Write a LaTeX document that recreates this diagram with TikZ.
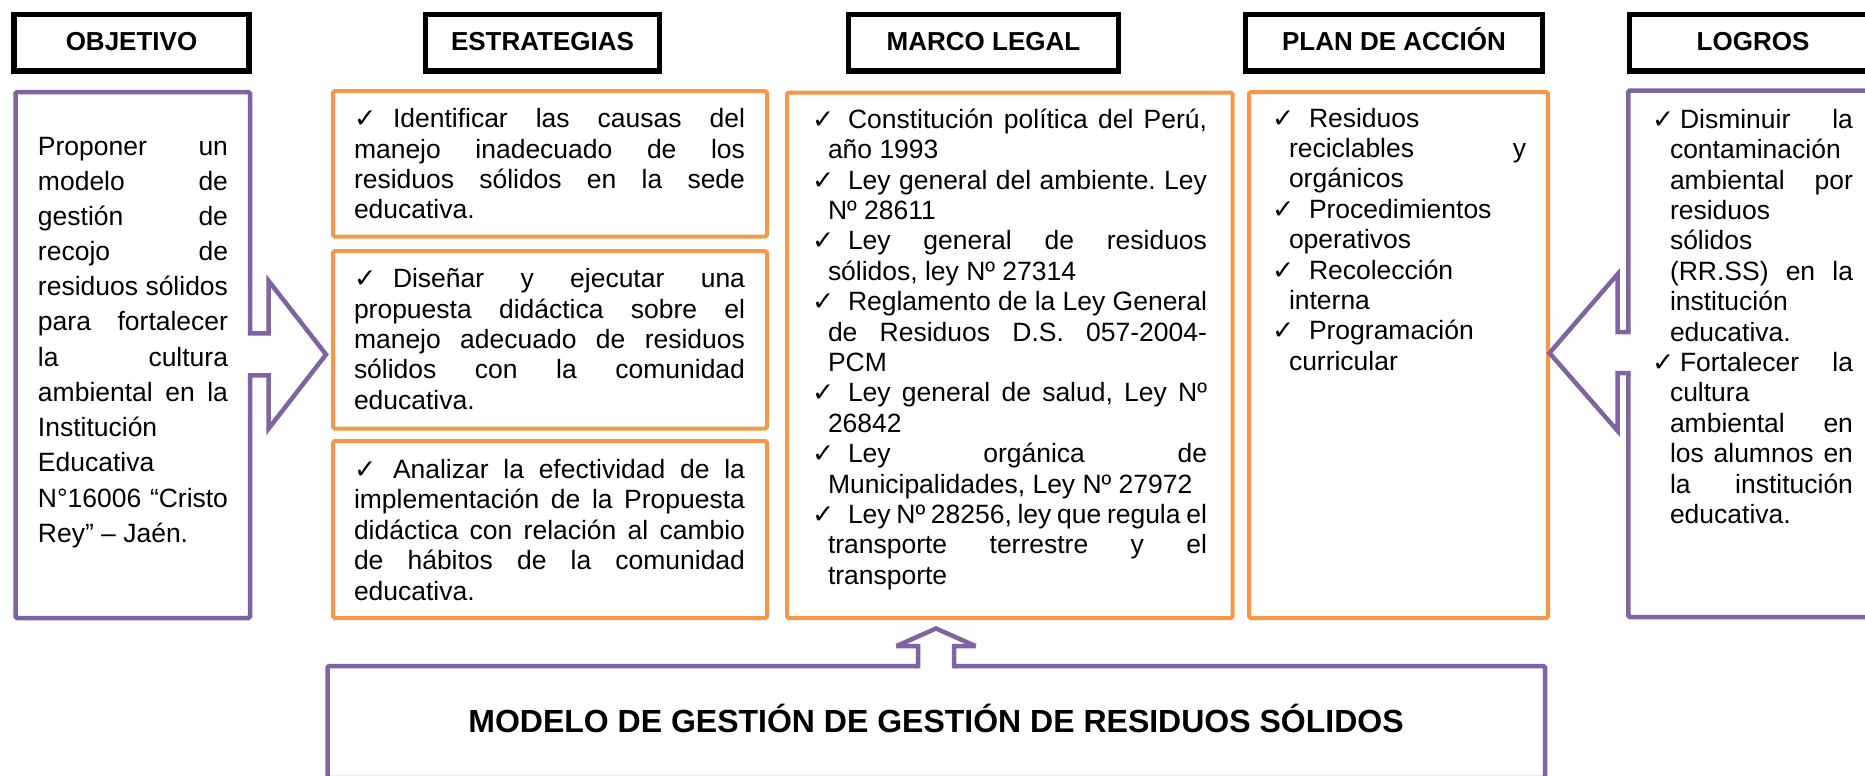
\documentclass[tikz,border=0pt]{standalone}
\usepackage{fontspec}
\setmainfont{Liberation Sans}
\newfontfamily\symf{DejaVu Sans}[Scale=1.0]
\usetikzlibrary{fit}
\definecolor{myorange}{HTML}{F79646}
\definecolor{mypurple}{HTML}{8064A2}
\newcommand\chk{{\symf ✓}}
\newcommand\myJ[1]{\hbox to\hsize{#1}}
\newcommand\myL[1]{\hbox to\hsize{#1\hfil}}
\newcommand\hchk[2]{\hskip#1\relax\rlap{\chk}\hskip#2\relax}
\newcommand\tblock[2]{\vtop{\hsize=#1\relax\lineskiplimit=-100pt\relax\lineskip=0pt\relax#2}}
\newcommand\bodyfont{\fontsize{13.24pt}{15.2pt}\selectfont}
\newcommand\objfont{\fontsize{13.24pt}{17.6pt}\selectfont}
\tikzset{
  hdrbox/.style={draw=black, line width=2.75pt, inner sep=0pt, outer sep=0pt},
  hdrtxt/.style={anchor=base, inner sep=0pt, font=\fontsize{13pt}{15pt}\selectfont\bfseries},
  obox/.style={draw=myorange, line width=2pt, inner sep=0pt, outer sep=0pt, rounded corners=0.8pt},
  pbox/.style={draw=mypurple, line width=2.25pt, inner sep=0pt, outer sep=0pt, rounded corners=0.8pt},
  txt/.style={anchor=base west, inner sep=0pt, outer sep=0pt, font=\bodyfont},
  barrow/.style={draw=mypurple, line width=2.25pt, line join=miter},
}
\begin{document}
\begin{tikzpicture}[x=0.5pt,y=-0.5pt]
\useasboundingbox (0,0) rectangle (1865,776);
\fill[white] (0,0) rectangle (1865,776);
\clip (0,0) rectangle (1865,776);

% header boxes
\node[hdrbox, fit={(14,14.5) (249,71)}] (h1) {};
\node[hdrbox, fit={(425.5,14.5) (659.5,71)}] (h2) {};
\node[hdrbox, fit={(848.5,14.5) (1118.5,71)}] (h3) {};
\node[hdrbox, fit={(1245.5,14.5) (1542.5,71)}] (h4) {};
\node[hdrbox, fit={(1629.5,14.5) (1877,71)}] (h5) {};
\node[hdrtxt] (h1t) at (131.5,50) {OBJETIVO};
\node[hdrtxt] (h2t) at (542.5,50) {ESTRATEGIAS};
\node[hdrtxt] (h3t) at (983.5,50) {MARCO LEGAL};
\node[hdrtxt] (h4t) at (1394,50) {PLAN DE ACCIÓN};
\node[hdrtxt] (h5t) at (1753,50) {LOGROS};

% content boxes
\node[pbox, fit={(15.5,92) (250,618)}] (ob) {};
\node[obox, fit={(333,91) (767,236.5)}] (s1) {};
\node[obox, fit={(333,251) (767,428.5)}] (s2) {};
\node[obox, fit={(333,441) (767,618)}] (s3) {};
\node[obox, fit={(787,92.5) (1232.5,618)}] (mb) {};
\node[obox, fit={(1249,92) (1548,618)}] (pb) {};
\node[pbox, fit={(1628.3,90.5) (1885,617)}] (lb) {};
\node[pbox, fit={(327.5,666) (1545,778)}] (bb) {};

% block arrows
\path[fill=white] (246,333.3) -- (268.7,333.3) -- (268.7,281) -- (326,354.5) -- (268.7,428.5) -- (268.7,375.3) -- (246,375.3) -- cycle;
\draw[barrow] (247.75,333.3) -- (268.7,333.3) -- (268.7,281) -- (326,354.5) -- (268.7,428.5) -- (268.7,375.3) -- (247.75,375.3);

\path[fill=white] (1632,332) -- (1617.7,332) -- (1617.7,274) -- (1549.5,353) -- (1617.7,431) -- (1617.7,373) -- (1632,373) -- cycle;
\draw[barrow] (1630.5,332) -- (1617.7,332) -- (1617.7,274) -- (1549.5,353) -- (1617.7,431) -- (1617.7,373) -- (1630.5,373);

\path[fill=white] (918,669) -- (918,646) -- (896.5,646) -- (936,628.5) -- (975.5,646) -- (954,646) -- (954,669) -- cycle;
\draw[barrow, miter limit=2] (918,668.25) -- (918,646) -- (896.5,646) -- (936,628.5) -- (975.5,646) -- (954,646) -- (954,668.25);

% texts
\node[txt, font=\objfont] (ot) at (38,155) {\tblock{95pt}{%
\myJ{Proponer\hfill un}
\myJ{modelo\hfill de}
\myJ{gestión\hfill de}
\myJ{recojo\hfill de}
\myJ{residuos\hfill sólidos}
\myJ{para\hfill fortalecer}
\myJ{la\hfill cultura}
\myJ{ambiental\hfill en\hfill la}
\myL{Institución}
\myL{Educativa}
\myJ{N°16006\hfill “Cristo}
\myL{Rey” – Jaén.}}};

\node[txt] (s1t) at (354,127.7) {\tblock{195.5pt}{%
\myJ{\rlap{\chk}\hskip19.5pt Identificar\hfill las\hfill causas\hfill del}
\myJ{manejo\hfill inadecuado\hfill de\hfill los}
\myJ{residuos\hfill sólidos\hfill en\hfill la\hfill sede}
\myL{educativa.}}};

\node[txt] (s2t) at (354,287.7) {\tblock{195.5pt}{%
\myJ{\rlap{\chk}\hskip19.5pt Diseñar\hfill y\hfill ejecutar\hfill una}
\myJ{propuesta\hfill didáctica\hfill sobre\hfill el}
\myJ{manejo\hfill adecuado\hfill de\hfill residuos}
\myJ{sólidos\hfill con\hfill la\hfill comunidad}
\myL{educativa.}}};

\node[txt] (s3t) at (354,478.5) {\tblock{195.5pt}{%
\myJ{\rlap{\chk}\hskip19.5pt Analizar\hfill la\hfill efectividad\hfill de\hfill la}
\myJ{implementación\hfill de\hfill la\hfill Propuesta}
\myJ{didáctica\hfill con\hfill relación\hfill al\hfill cambio}
\myJ{de\hfill hábitos\hfill de\hfill la\hfill comunidad}
\myL{educativa.}}};

\node[txt] (mt) at (828,128.3) {\tblock{189.5pt}{%
\myJ{\hchk{-8pt}{18pt}Constitución\hfill política\hfill del\hfill Perú,}
\myL{año 1993}
\myJ{\hchk{-8pt}{18pt}Ley\hfill general\hfill del\hfill ambiente.\hfill Ley}
\myL{Nº 28611}
\myJ{\hchk{-8pt}{18pt}Ley\hfill general\hfill de\hfill residuos}
\myL{sólidos, ley Nº 27314}
\myJ{\hchk{-8pt}{18pt}Reglamento\hfill de\hfill la\hfill Ley\hfill General}
\myJ{de\hfill Residuos\hfill D.S.\hfill 057-2004-}
\myL{PCM}
\myJ{\hchk{-8pt}{18pt}Ley\hfill general\hfill de\hfill salud,\hfill Ley\hfill Nº}
\myL{26842}
\myJ{\hchk{-8pt}{18pt}Ley\hfill orgánica\hfill de}
\myL{Municipalidades, Ley Nº 27972}
\myJ{\hchk{-8pt}{18pt}Ley\hfill Nº\hfill 28256,\hfill ley\hfill que\hfill regula\hfill el}
\myJ{transporte\hfill terrestre\hfill y\hfill el}
\myL{transporte}}};

\node[txt] (pt) at (1289,127) {\tblock{118.5pt}{%
\myL{\hchk{-8.5pt}{18.5pt}Residuos}
\myJ{reciclables\hfill y}
\myL{orgánicos}
\myL{\hchk{-8.5pt}{18.5pt}Procedimientos}
\myL{operativos}
\myL{\hchk{-8.5pt}{18.5pt}Recolección}
\myL{interna}
\myL{\hchk{-8.5pt}{18.5pt}Programación}
\myL{curricular}}};

\node[txt] (lt) at (1670,128.3) {\tblock{91.5pt}{%
\myJ{\hchk{-9pt}{14pt}Disminuir\hfill la}
\myL{contaminación}
\myJ{ambiental\hfill por}
\myL{residuos}
\myL{sólidos}
\myJ{(RR.SS)\hfill en\hfill la}
\myL{institución}
\myL{educativa.}
\myJ{\hchk{-9pt}{14pt}Fortalecer\hfill la}
\myL{cultura}
\myJ{ambiental\hfill en}
\myJ{los\hfill alumnos\hfill en}
\myJ{la\hfill institución}
\myL{educativa.}}};

\node[anchor=base, inner sep=0pt, font=\fontsize{16pt}{19pt}\selectfont\bfseries] (bt) at (936,732) {MODELO DE GESTIÓN DE GESTIÓN DE RESIDUOS SÓLIDOS};
\end{tikzpicture}
\end{document}
